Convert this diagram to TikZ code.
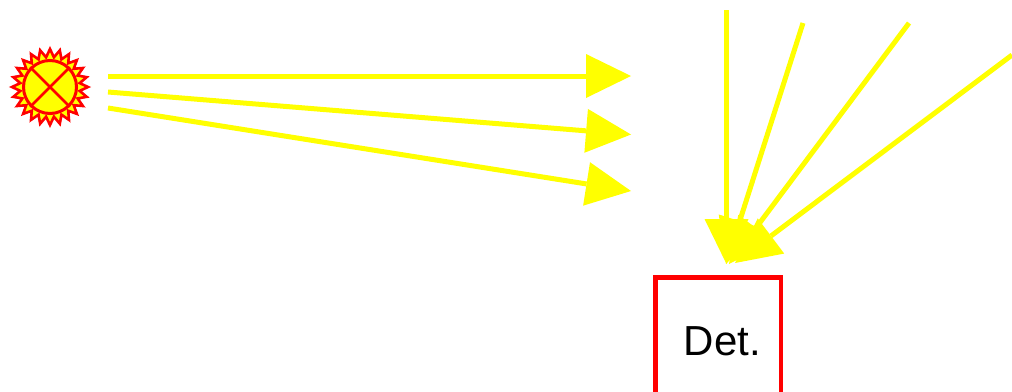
\documentclass[tikz,border=0pt]{standalone}
\usepackage{fontspec}
\setmainfont{Liberation Sans}
\usetikzlibrary{arrows.meta,shapes.geometric}
\definecolor{pureyellow}{RGB}{255,255,0}
\definecolor{purered}{RGB}{255,0,0}
\tikzset{
  beam/.style={draw=pureyellow,fill=pureyellow,line width=5pt,-{Triangle[length=45pt,width=44pt,line width=0pt,fill=pureyellow]}},
  sunrays/.style={star,star points=24,star point ratio=1.27,minimum size=76pt,inner sep=0pt,draw=purered,fill=pureyellow,line width=2.6pt,line join=miter},
  sundisc/.style={circle,minimum size=53pt,inner sep=0pt,draw=purered,fill=pureyellow,line width=3pt},
  sunbar/.style={draw=purered,line width=2.8pt},
  detbox/.style={rectangle,draw=purered,line width=4.5pt,minimum width=125.5pt,minimum height=127.5pt,inner sep=0pt,font=\fontsize{42}{50}\selectfont}
}
\begin{document}
\begin{tikzpicture}[x=1pt,y=-1pt]
\useasboundingbox (0,0) rectangle (1012,391);
\clip (0,0) rectangle (1012,391);
\node[sunrays] (rays) at (50,87) {};
\node[sundisc] (sun) at (50,87) {};
\draw[sunbar] (sun.45) -- (sun.225);
\draw[sunbar] (sun.135) -- (sun.315);
\node[detbox] (det) at (718,341) {\hspace*{9pt}Det.};
\coordinate (s1) at (108,76);
\coordinate (s2) at (108,92);
\coordinate (s3) at (108,108);
\coordinate (t1) at (631,76);
\coordinate (t2) at (631,134.5);
\coordinate (t3) at (631,191);
\coordinate (a1) at (726.5,10);
\coordinate (a2) at (803,23);
\coordinate (a3) at (909,23);
\coordinate (a4) at (1012,55);
\coordinate (h1) at (726.5,264);
\coordinate (h2) at (726,264);
\coordinate (h3) at (729,264);
\coordinate (h4) at (735,263);
\draw[beam] (s1) -- (t1);
\draw[beam] (s2) -- (t2);
\draw[beam] (s3) -- (t3);
\draw[beam] (a1) -- (h1);
\draw[beam] (a2) -- (h2);
\draw[beam] (a3) -- (h3);
\draw[beam] (a4) -- (h4);
\end{tikzpicture}
\end{document}
